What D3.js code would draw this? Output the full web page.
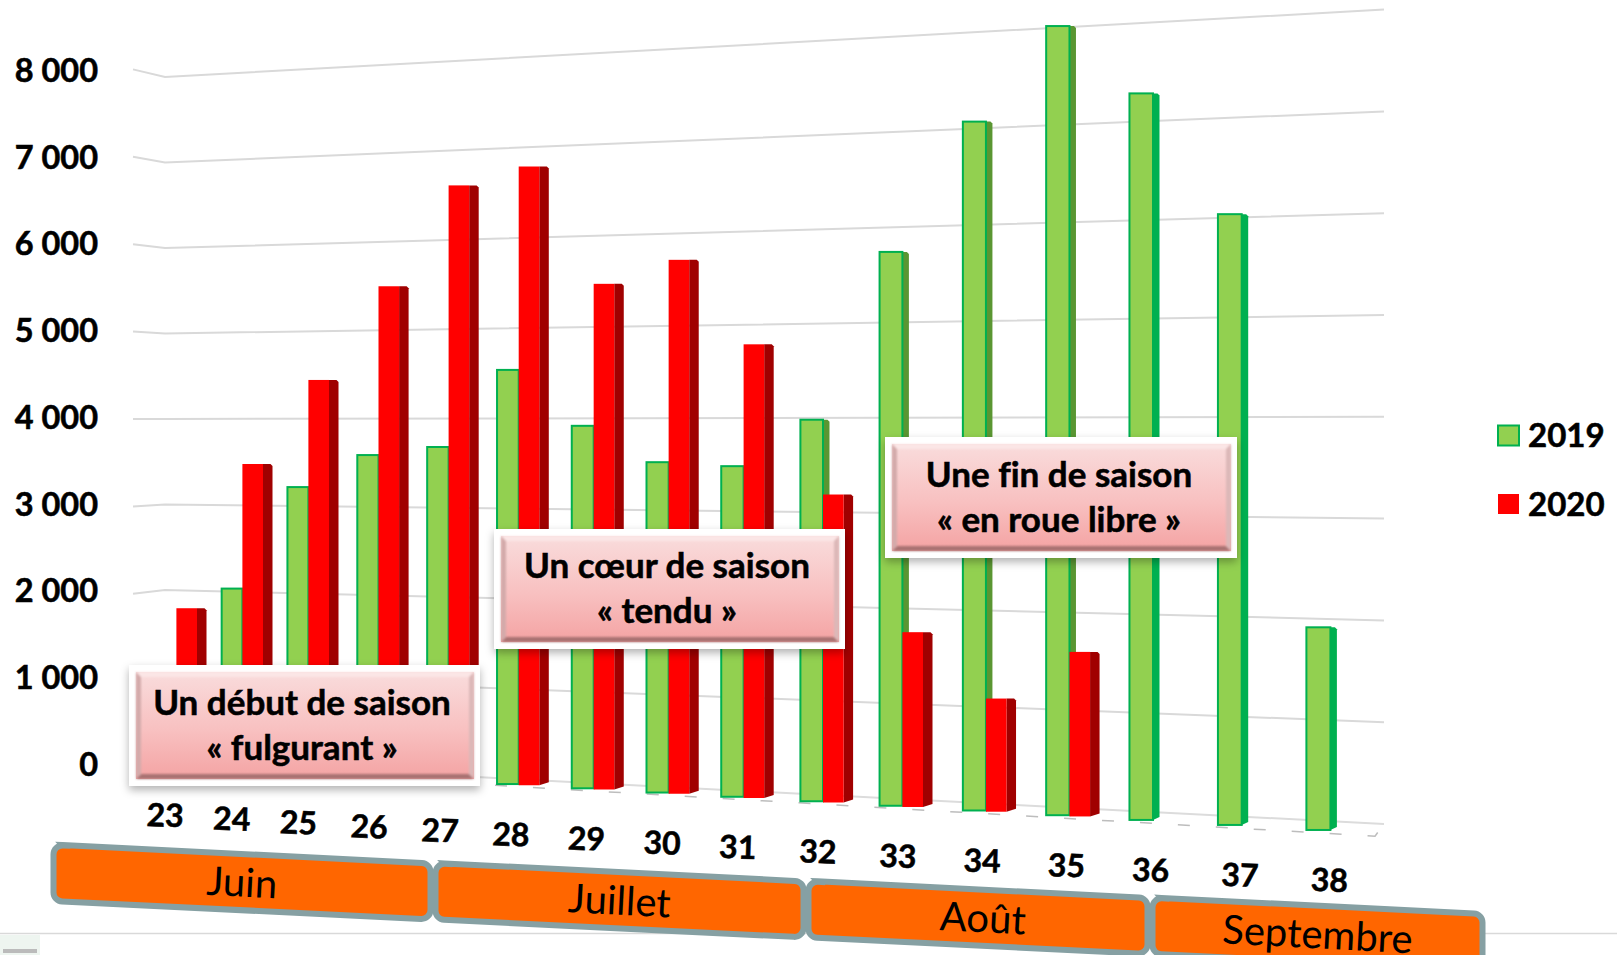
<!DOCTYPE html>
<html>
<head>
<meta charset="utf-8">
<script src="https://cdn.jsdelivr.net/npm/d3@7"></script>
<style>
  html, body { margin: 0; padding: 0; background: #fff; overflow: hidden; }
  text { font-family: Lato, "Open Sans", sans-serif; fill: #000; font-variant-ligatures: none; }
  .bold { font-weight: 700; stroke: #000; stroke-width: 0.55px; }
</style>
</head>
<body>
<svg width="1617" height="955"></svg>
<script>
var weeks = [23, 24, 25, 26, 27, 28, 29, 30, 31, 32, 33, 34, 35, 36, 37, 38];
var values2019 = [800, 2030, 3190, 3560, 3660, 4510, 3910, 3530, 3500, 4000, 5750, 7080, 8030, 7320, 6090, 2000];
var values2020 = [1790, 3440, 4390, 5430, 6530, 6720, 5440, 5690, 4790, 3220, 1810, 1160, 1670, null, null, null];
var yTicks = [0, 1000, 2000, 3000, 4000, 5000, 6000, 7000, 8000];
var seriesNames = ['2019', '2020'];
var months = ['Juin', 'Juillet', 'Août', 'Septembre'];
var monthEdges = [22.5, 27.5, 31.5, 35.5, 38.5];
var notes = [
  ['Un début de saison', '« fulgurant »'],
  ['Un cœur de saison', '« tendu »'],
  ['Une fin de saison', '« en roue libre »']
];

var svg = d3.select('svg');
var defs = svg.append('defs');

var colors = {green: '#92d050', greenLine: '#00b050', greenSide: '#5a9632',
  red: '#ff0000', redSide: '#a00000', grid: '#d9d9d9', band: '#ff6600', bandLine: '#86a0a3'};

// perspective of the week axis: x of the line between the two bars of a week
var weekX = d3.scaleLinear()
  .domain([23, 25, 28, 31, 33, 36, 38])
  .range([176.4, 308.4, 518.7, 743.6, 902.4, 1153, 1330.4]);

var greenWidth = d3.scaleLinear().domain([23, 38]).range([20.5, 24]);
var redWidth = 20.6;
var labelOffset = d3.scaleLinear().domain([23, 38]).range([-11.3, -1]);

// floor and height of the front plane, which both depend on x
var frontZero = d3.scaleLinear().domain([175, 1319]).range([765.2, 830]);
var frontUnit = d3.scaleLinear().domain([62, 1384]).range([86.6, 102.1]);
function frontY(x) {
  var zero = frontZero(x);
  return d3.scaleLinear().domain([0, 1000]).range([zero, zero - frontUnit(x)]);
}

// same thing for the back wall and for the short side wall
var wallZero = d3.scaleLinear().domain([165, 1384]).range([761, 824]);
var wallUnit = d3.scaleLinear().domain([165, 1384]).range([85.5, 101.8]);
var sideX = 133;
var sideZero = 768.6;
var sideUnit = 87.4;

// gridlines
var gridLine = d3.line();
svg.append('g').selectAll('path')
  .data(yTicks)
  .enter()
  .append('path')
  .attr('d', function(d) {
    return gridLine([
      [sideX, sideZero - d / 1000 * sideUnit],
      [165, wallZero(165) - d / 1000 * wallUnit(165)],
      [1384, wallZero(1384) - d / 1000 * wallUnit(1384)]
    ]);
  })
  .attr('fill', 'none')
  .attr('stroke', function(d) { return d === 0 ? '#dcdcdc' : colors.grid; })
  .attr('stroke-width', 2);

// front edge of the floor
svg.append('path')
  .attr('d', gridLine([[495, frontZero(495) + 2], [1375, frontZero(1375) + 3], [1384, 824]]))
  .attr('fill', 'none')
  .attr('stroke', '#bdbdbd')
  .attr('stroke-width', 1.5)
  .attr('stroke-dasharray', '12 26');

// bottom line of the slide and the faint logo under it
svg.append('line')
  .attr('x1', 0).attr('x2', 1617)
  .attr('y1', 933.5).attr('y2', 933.5)
  .attr('stroke', '#d9d9d9')
  .attr('stroke-width', 1.5);
svg.append('rect')
  .attr('x', 0).attr('y', 935)
  .attr('width', 40).attr('height', 20)
  .attr('fill', '#eef5f0');
svg.append('rect')
  .attr('x', 3).attr('y', 949)
  .attr('width', 34).attr('height', 4)
  .attr('fill', '#bbbbbb');

// y axis
var yAxisScale = d3.scaleLinear().domain([0, 8000]).range([765, 71]);
var frFormat = d3.formatLocale({decimal: ',', thousands: ' ', grouping: [3], currency: ['', ' €']}).format(',');
var yAxis = d3.axisLeft(yAxisScale)
  .tickValues(yTicks)
  .tickSize(0)
  .tickPadding(0)
  .tickFormat(frFormat);

var yAxisG = svg.append('g')
  .attr('class', 'y-axis')
  .attr('transform', 'translate(98,0)')
  .call(yAxis);
yAxisG.select('.domain').remove();
yAxisG.selectAll('text')
  .attr('class', 'bold')
  .attr('font-family', null)
  .style('font-size', '32.5px');

// bars
var rows = weeks.map(function(w, i) {
  return {week: w, v2019: values2019[i], v2020: values2020[i]};
});

function sidePath(x, w, depth, top, bottom) {
  var xr = x + w;
  return gridLine([
    [xr, top], [xr + depth - 2, top], [xr + depth, top + 2],
    [xr + depth, bottom - 3], [xr, bottom]
  ]) + 'Z';
}

var barG = svg.append('g').selectAll('g')
  .data(rows)
  .enter()
  .append('g')
  .attr('class', 'week');

barG.each(function(d) {
  var g = d3.select(this);
  var gw = greenWidth(d.week);
  var gx = weekX(d.week) - gw;
  var y = frontY(gx + gw / 2);
  var top = y(d.v2019);
  var bottom = y(0);

  g.append('path')
    .attr('d', sidePath(gx, gw, 6.5, top, bottom))
    .attr('fill', d.week > 35 ? colors.greenLine : colors.greenSide);
  g.append('rect')
    .attr('x', gx).attr('y', top)
    .attr('width', gw).attr('height', bottom - top)
    .attr('fill', colors.green)
    .attr('stroke', colors.greenLine)
    .attr('stroke-width', 2);

  if (d.v2020 === null) return;

  var rx = weekX(d.week);
  var ry = frontY(rx + redWidth / 2);
  var rtop = ry(d.v2020);
  var rbottom = ry(0);

  g.append('path')
    .attr('d', sidePath(rx, redWidth, 9.5, rtop, rbottom))
    .attr('fill', colors.redSide);
  g.append('rect')
    .attr('x', rx).attr('y', rtop)
    .attr('width', redWidth).attr('height', rbottom - rtop)
    .attr('fill', colors.red);
});

// week labels
svg.append('g').selectAll('text')
  .data(weeks)
  .enter()
  .append('text')
  .attr('class', 'bold')
  .attr('transform', function(d) {
    var x = weekX(d) + labelOffset(d);
    var y = 815 + 0.0558 * (x - 165);
    return 'translate(' + [x, y] + ') rotate(2)';
  })
  .attr('text-anchor', 'middle')
  .attr('dy', '0.36em')
  .style('font-size', '32px')
  .text(function(d) { return d; });

// month bands
var bandX = d3.scaleLinear().domain(monthEdges).range([51, 433, 806, 1150, 1485]);
var bandTop = d3.scaleLinear().domain([51, 1485]).range([843, 912]);
var bandHeight = 58;
var monthLabelShift = [0, 0, 5, 0];
var monthRows = months.map(function(m, i) {
  return {name: m, x0: bandX(monthEdges[i]), x1: bandX(monthEdges[i + 1]), dx: monthLabelShift[i]};
});

function bandPath(d) {
  var x0 = d.x0 + 2.5, x1 = d.x1 - 2.5;
  var y0 = bandTop(d.x0) + 2, y1 = bandTop(d.x1) + 2;
  var h = bandHeight - 2, r = 9;
  var p = d3.path();
  p.moveTo(x0 + r, y0);
  p.arcTo(x1, y1, x1, y1 + h, r);
  p.arcTo(x1, y1 + h, x0, y0 + h, r);
  p.arcTo(x0, y0 + h, x0, y0, r);
  p.arcTo(x0, y0, x1, y1, r);
  p.closePath();
  return p.toString();
}

var bandG = svg.append('g').selectAll('g')
  .data(monthRows)
  .enter()
  .append('g');

bandG.append('path')
  .attr('d', bandPath)
  .attr('fill', colors.band)
  .attr('stroke', colors.bandLine)
  .attr('stroke-width', 6);

bandG.append('text')
  .attr('transform', function(d) {
    var x = (d.x0 + d.x1) / 2 + d.dx;
    return 'translate(' + [x, bandTop(x) + bandHeight / 2 + 1] + ') rotate(3)';
  })
  .attr('text-anchor', 'middle')
  .attr('dy', '0.36em')
  .style('font-size', '40px')
  .text(function(d) { return d.name; });

// text boxes
var noteBoxes = [
  {x: 129, y: 665, w: 351, h: 121, cx: 302, b1: 715},
  {x: 494, y: 529, w: 351, h: 120, cx: 667, b1: 578},
  {x: 885, y: 437, w: 352, h: 121, cx: 1059, b1: 487}
];

var shadow = defs.append('filter')
  .attr('id', 'boxShadow')
  .attr('x', '-10%').attr('y', '-10%')
  .attr('width', '120%').attr('height', '125%');
shadow.append('feDropShadow')
  .attr('dx', 0).attr('dy', 4)
  .attr('stdDeviation', 4)
  .attr('flood-color', '#000')
  .attr('flood-opacity', 0.3);

defs.append('filter')
  .attr('id', 'soft')
  .append('feGaussianBlur')
  .attr('stdDeviation', 1);

var pink = defs.append('linearGradient')
  .attr('id', 'pinkFill')
  .attr('x1', 0).attr('y1', 0).attr('x2', 0).attr('y2', 1);
pink.append('stop').attr('offset', '0%').attr('stop-color', '#f9dcdc');
pink.append('stop').attr('offset', '55%').attr('stop-color', '#f8c0c0');
pink.append('stop').attr('offset', '100%').attr('stop-color', '#f4a3a3');

var noteG = svg.append('g').selectAll('g')
  .data(notes)
  .enter()
  .append('g');

noteG.each(function(lines, i) {
  var g = d3.select(this);
  var b = noteBoxes[i];
  var bw = 5;
  var ix = b.x + 7, iy = b.y + 7, iw = b.w - 13, ih = b.h - 14;

  g.append('rect')
    .attr('x', b.x).attr('y', b.y)
    .attr('width', b.w).attr('height', b.h)
    .attr('fill', '#fff')
    .attr('filter', 'url(#boxShadow)');
  g.append('rect')
    .attr('x', ix).attr('y', iy)
    .attr('width', iw).attr('height', ih)
    .attr('fill', 'url(#pinkFill)');

  // bevel edges
  var edges = [
    {c: '#fbe6e6', p: [[ix, iy], [ix + iw, iy], [ix + iw - bw, iy + bw], [ix + bw, iy + bw]]},
    {c: '#a97272', p: [[ix, iy + ih], [ix + iw, iy + ih], [ix + iw - bw, iy + ih - bw], [ix + bw, iy + ih - bw]]},
    {c: '#d3aaaa', p: [[ix, iy], [ix + bw, iy + bw], [ix + bw, iy + ih - bw], [ix, iy + ih]]},
    {c: '#dcb8b8', p: [[ix + iw, iy], [ix + iw - bw, iy + bw], [ix + iw - bw, iy + ih - bw], [ix + iw, iy + ih]]}
  ];
  var bevel = g.append('g').attr('filter', 'url(#soft)');
  edges.forEach(function(e) {
    bevel.append('path').attr('d', gridLine(e.p) + 'Z').attr('fill', e.c);
  });

  g.selectAll('text')
    .data(lines)
    .enter()
    .append('text')
    .attr('class', 'bold')
    .attr('x', b.cx)
    .attr('y', function(d, j) { return b.b1 + j * 45; })
    .attr('text-anchor', 'middle')
    .style('font-size', '35px')
    .text(function(d) { return d; });
});

// legend
var legendY = d3.scalePoint().domain(seriesNames).range([435.5, 504]);
var legend = svg.append('g').selectAll('g')
  .data(seriesNames)
  .enter()
  .append('g')
  .attr('transform', function(d) { return 'translate(1498,' + legendY(d) + ')'; });

legend.append('rect')
  .attr('x', 0).attr('y', -10)
  .attr('width', 21).attr('height', 20)
  .attr('fill', function(d) { return d === '2019' ? colors.green : colors.red; })
  .attr('stroke', function(d) { return d === '2019' ? colors.greenLine : 'none'; })
  .attr('stroke-width', 2);

legend.append('text')
  .attr('class', 'bold')
  .attr('x', 30)
  .attr('dy', '0.36em')
  .style('font-size', '33px')
  .text(function(d) { return d; });
</script>
</body>
</html>
